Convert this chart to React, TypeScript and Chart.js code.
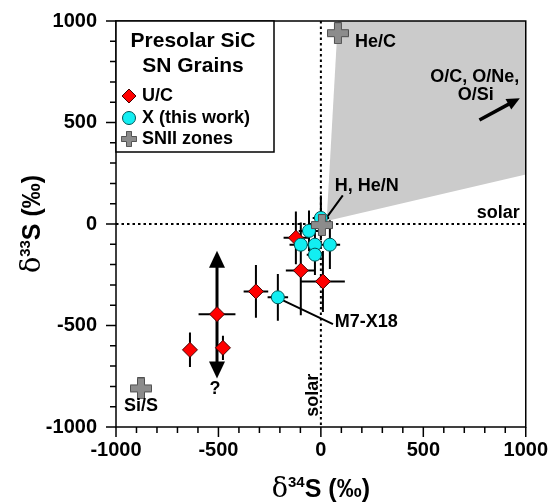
import React, { useEffect, useRef } from 'react';
import { Chart, registerables } from 'chart.js';
Chart.register(...registerables);

// ---- data ----
const ucX = [-507, -639, -478, -317, -98, 10, -122];
const ucY = [-444, -620, -610, -332, -229, -283, -68];
const ucXErr = [90, 25, 25, 60, 73, 107, 60];
const ucYErr = [0, 85, 60, 130, 220, 150, 130];
const ucArrowX = [-507];
const ucArrowTop = [-132];
const ucArrowBottom = [-761];

const xwX = [-210, 0, -58, -98, -29, 44, -29];
const xwY = [-361, 30, -34, -102, -102, -102, -151];
const xwXErr = [50, 40, 50, 55, 50, 50, 40];
const xwYErr = [115, 110, 100, 110, 90, 120, 100];

const sniiX = [83, 5, -878];
const sniiY = [940, -5, -810];
const sniiNames = ['He/C', 'H, He/N', 'Si/S'];

const shadeX = [83, 1000, 1000, 28];
const shadeY = [1000, 1000, 244, 15];

const majorTicks = [-1000, -500, 0, 500, 1000];
const legendTitle = ['Presolar SiC', 'SN Grains'];
const legendItems = ['U/C', 'X (this work)', 'SNII zones'];

const SANS = '"Liberation Sans", Arial, sans-serif';

function makePlus(): HTMLCanvasElement {
  const s = 22, a = 7;
  const c = document.createElement('canvas');
  c.width = s; c.height = s;
  const g = c.getContext('2d')!;
  const m = (s - a) / 2;
  const p = 0.5;
  g.beginPath();
  g.moveTo(m, p); g.lineTo(m + a, p); g.lineTo(m + a, m); g.lineTo(s - p, m);
  g.lineTo(s - p, m + a); g.lineTo(m + a, m + a); g.lineTo(m + a, s - p); g.lineTo(m, s - p);
  g.lineTo(m, m + a); g.lineTo(p, m + a); g.lineTo(p, m); g.lineTo(m, m); g.closePath();
  g.fillStyle = '#8c8c8c';
  g.fill();
  g.strokeStyle = '#505050';
  g.lineWidth = 1;
  g.stroke();
  return c;
}

function arrowHead(ctx: CanvasRenderingContext2D, x1: number, y1: number, x2: number, y2: number, len: number, w: number) {
  const ang = Math.atan2(y2 - y1, x2 - x1);
  const bx = x2 - len * Math.cos(ang), by = y2 - len * Math.sin(ang);
  const nx = -Math.sin(ang) * w / 2, ny = Math.cos(ang) * w / 2;
  ctx.beginPath();
  ctx.moveTo(x2, y2);
  ctx.lineTo(bx + nx, by + ny);
  ctx.lineTo(bx - nx, by - ny);
  ctx.closePath();
  ctx.fill();
}

function arrow(ctx: CanvasRenderingContext2D, x1: number, y1: number, x2: number, y2: number, lw: number, len: number, w: number) {
  const ang = Math.atan2(y2 - y1, x2 - x1);
  ctx.lineWidth = lw;
  ctx.beginPath();
  ctx.moveTo(x1, y1);
  ctx.lineTo(x2 - (len - 2) * Math.cos(ang), y2 - (len - 2) * Math.sin(ang));
  ctx.stroke();
  arrowHead(ctx, x1, y1, x2, y2, len, w);
}

type Part = { t: string; f: string; dy: number };
function mixed(ctx: CanvasRenderingContext2D, parts: Part[], cx: number, baseY: number) {
  let total = 0;
  const ws = parts.map(p => { ctx.font = p.f; const w = ctx.measureText(p.t).width; total += w; return w; });
  let x = cx - total / 2;
  ctx.textAlign = 'left';
  ctx.textBaseline = 'alphabetic';
  parts.forEach((p, i) => { ctx.font = p.f; ctx.fillText(p.t, x, baseY + p.dy); x += ws[i]; });
}

const overlay = {
  id: 'overlay',
  beforeDatasetsDraw(chart: any) {
    const ctx: CanvasRenderingContext2D = chart.ctx;
    const xs = chart.scales.x, ys = chart.scales.y;
    const ca = chart.chartArea;
    const px = (v: number) => xs.getPixelForValue(v);
    const py = (v: number) => ys.getPixelForValue(v);
    ctx.save();
    // shaded region
    ctx.beginPath();
    shadeX.forEach((v, i) => { if (i === 0) ctx.moveTo(px(v), py(shadeY[i])); else ctx.lineTo(px(v), py(shadeY[i])); });
    ctx.closePath();
    ctx.fillStyle = '#cbcbcb';
    ctx.fill();
    // solar lines
    ctx.strokeStyle = '#000';
    ctx.lineWidth = 2;
    ctx.setLineDash([2.5, 3]);
    ctx.beginPath();
    ctx.moveTo(px(0), ca.top); ctx.lineTo(px(0), ca.bottom);
    ctx.moveTo(ca.left, py(0)); ctx.lineTo(ca.right, py(0));
    ctx.stroke();
    ctx.setLineDash([]);
    // leader lines
    ctx.lineWidth = 2;
    ctx.beginPath();
    ctx.moveTo(px(107), py(141)); ctx.lineTo(px(20), py(20));
    ctx.moveTo(px(-185), py(-376)); ctx.lineTo(px(59), py(-493));
    ctx.stroke();
    // error bars
    ctx.lineWidth = 2;
    ctx.beginPath();
    const bars = (X: number[], Y: number[], XE: number[], YE: number[]) => {
      X.forEach((x, i) => {
        const y = Y[i];
        if (XE[i] > 0) { ctx.moveTo(px(x - XE[i]), py(y)); ctx.lineTo(px(x + XE[i]), py(y)); }
        if (YE[i] > 0) { ctx.moveTo(px(x), py(y - YE[i])); ctx.lineTo(px(x), py(y + YE[i])); }
      });
    };
    bars(ucX, ucY, ucXErr, ucYErr);
    bars(xwX, xwY, xwXErr, xwYErr);
    ctx.stroke();
    // arrow error bars
    ctx.fillStyle = '#000';
    ucArrowX.forEach((x, i) => {
      const yc = ucY[0];
      arrow(ctx, px(x), py(yc), px(x), py(ucArrowTop[i]), 3, 17, 16);
      arrow(ctx, px(x), py(yc), px(x), py(ucArrowBottom[i]), 3, 17, 16);
    });
    // O/C arrow
    arrow(ctx, px(774), py(512), px(971), py(620), 3.5, 13, 12);
    ctx.restore();
  },
  afterDraw(chart: any) {
    const ctx: CanvasRenderingContext2D = chart.ctx;
    const xs = chart.scales.x, ys = chart.scales.y;
    const ca = chart.chartArea;
    const px = (v: number) => xs.getPixelForValue(v);
    const py = (v: number) => ys.getPixelForValue(v);
    ctx.save();
    ctx.strokeStyle = '#000';
    ctx.fillStyle = '#000';
    // frame
    ctx.lineWidth = 1.5;
    ctx.strokeRect(ca.left, ca.top, ca.right - ca.left, ca.bottom - ca.top);
    // ticks
    ctx.beginPath();
    for (let v = -1000; v <= 1000; v += 100) {
      const L = majorTicks.includes(v) ? 10 : 6;
      const x = px(v);
      ctx.moveTo(x, ca.bottom); ctx.lineTo(x, ca.bottom + L);
      const y = py(v);
      ctx.moveTo(ca.left, y); ctx.lineTo(ca.left - L, y);
    }
    ctx.stroke();
    // legend box
    const bw = 158, bh = 131;
    ctx.fillStyle = '#fff';
    ctx.fillRect(ca.left, ca.top, bw, bh);
    ctx.lineWidth = 1.5;
    ctx.strokeRect(ca.left, ca.top, bw, bh);
    ctx.fillStyle = '#000';
    ctx.textAlign = 'center';
    ctx.textBaseline = 'middle';
    ctx.font = `bold 21px ${SANS}`;
    ctx.fillText(legendTitle[0], ca.left + 77, ca.top + 20);
    ctx.fillText(legendTitle[1], ca.left + 77, ca.top + 45);
    ctx.textAlign = 'left';
    ctx.font = `bold 18px ${SANS}`;
    const ly = [ca.top + 75, ca.top + 97, ca.top + 118];
    legendItems.forEach((t, i) => ctx.fillText(t, ca.left + 26, ly[i]));
    // legend markers
    const mx = ca.left + 13;
    ctx.lineWidth = 1;
    ctx.strokeStyle = '#400';
    ctx.fillStyle = '#ff0000';
    ctx.beginPath();
    ctx.moveTo(mx, ly[0] - 7); ctx.lineTo(mx + 7, ly[0]); ctx.lineTo(mx, ly[0] + 7); ctx.lineTo(mx - 7, ly[0]); ctx.closePath();
    ctx.fill(); ctx.stroke();
    ctx.fillStyle = '#12eef2';
    ctx.strokeStyle = '#055';
    ctx.beginPath(); ctx.arc(mx, ly[1], 6.5, 0, Math.PI * 2); ctx.fill(); ctx.stroke();
    const plus = chart.$plus as HTMLCanvasElement;
    if (plus) ctx.drawImage(plus, mx - 8, ly[2] - 8, 16, 16);
    // annotations
    ctx.fillStyle = '#000';
    ctx.font = `bold 18px ${SANS}`;
    ctx.textBaseline = 'middle';
    ctx.textAlign = 'left';
    ctx.fillText(sniiNames[0], px(166), py(898));
    ctx.fillText(sniiNames[1], px(68), py(185));
    ctx.fillText('M7-X18', px(68), py(-483));
    ctx.textAlign = 'center';
    ctx.fillText(sniiNames[2], px(-878), py(-898));
    ctx.fillText('?', px(-517), py(-815));
    ctx.fillText('O/C, O/Ne,', px(751), py(722));
    ctx.fillText('O/Si', px(756), py(634));
    ctx.textAlign = 'right';
    ctx.fillText('solar', px(971), py(54));
    ctx.save();
    ctx.translate(px(-39), py(-844));
    ctx.rotate(-Math.PI / 2);
    ctx.textAlign = 'center';
    ctx.fillText('solar', 0, 0);
    ctx.restore();
    // axis titles
    const titleParts = (sup: string): Part[] => [
      { t: 'δ', f: `27px "DejaVu Serif", serif`, dy: 0 },
      { t: sup, f: `bold 15px ${SANS}`, dy: -10 },
      { t: 'S (‰)', f: `bold 25px ${SANS}`, dy: 0 },
    ];
    mixed(ctx, titleParts('34'), (ca.left + ca.right) / 2, 497);
    ctx.save();
    ctx.translate(40, (ca.top + ca.bottom) / 2);
    ctx.rotate(-Math.PI / 2);
    mixed(ctx, titleParts('33'), 0, 0);
    ctx.restore();
    ctx.restore();
  },
};

export default function App() {
  const ref = useRef<HTMLCanvasElement>(null);
  useEffect(() => {
    if (!ref.current) return;
    const plus = makePlus();
    const tickFont = { family: SANS, size: 20, weight: 'bold' as const };
    const chart: any = new Chart(ref.current, {
      type: 'scatter',
      data: {
        datasets: [
          {
            label: 'SNII zones',
            data: sniiX.map((x, i) => ({ x, y: sniiY[i] })),
            pointStyle: plus as any,
            pointRadius: 11,
            order: 0,
          },
          {
            label: 'X (this work)',
            data: xwX.map((x, i) => ({ x, y: xwY[i] })),
            pointStyle: 'circle',
            pointRadius: 6.5,
            backgroundColor: '#12eef2',
            borderColor: '#055',
            borderWidth: 1,
            order: 1,
          },
          {
            label: 'U/C',
            data: ucX.map((x, i) => ({ x, y: ucY[i] })),
            pointStyle: 'rectRot',
            pointRadius: 7.5,
            backgroundColor: '#ff0000',
            borderColor: '#400',
            borderWidth: 1,
            order: 2,
          },
        ],
      },
      options: {
        animation: false,
        responsive: false,
        events: [],
        layout: { padding: { top: 18, right: 23, left: 0, bottom: 0 } },
        plugins: { legend: { display: false }, tooltip: { enabled: false } },
        scales: {
          x: {
            type: 'linear', min: -1000, max: 1000,
            afterFit: (s: any) => { s.height = 77; },
            ticks: {
              stepSize: 100, autoSkip: false, maxRotation: 0, padding: 1, color: '#000', font: tickFont,
              callback: (v: any) => (majorTicks.includes(Number(v)) ? String(v) : ''),
            },
            grid: { display: true, drawOnChartArea: false, drawTicks: true, tickLength: 10, color: 'rgba(0,0,0,0)' },
            border: { display: false },
          },
          y: {
            type: 'linear', min: -1000, max: 1000,
            afterFit: (s: any) => { s.width = 116; },
            ticks: {
              stepSize: 100, autoSkip: false, padding: 9, color: '#000', font: tickFont,
              callback: (v: any) => (majorTicks.includes(Number(v)) ? String(v) : ''),
            },
            grid: { display: true, drawOnChartArea: false, drawTicks: true, tickLength: 10, color: 'rgba(0,0,0,0)' },
            border: { display: false },
          },
        },
      },
      plugins: [overlay],
    });
    chart.$plus = plus;
    chart.draw();
    return () => chart.destroy();
  }, []);
  return (
    <div style={{ position: 'fixed', left: 0, top: 0, width: 549, height: 504, background: '#fff' }}>
      <canvas ref={ref} width={549} height={504} style={{ display: 'block' }} />
    </div>
  );
}
